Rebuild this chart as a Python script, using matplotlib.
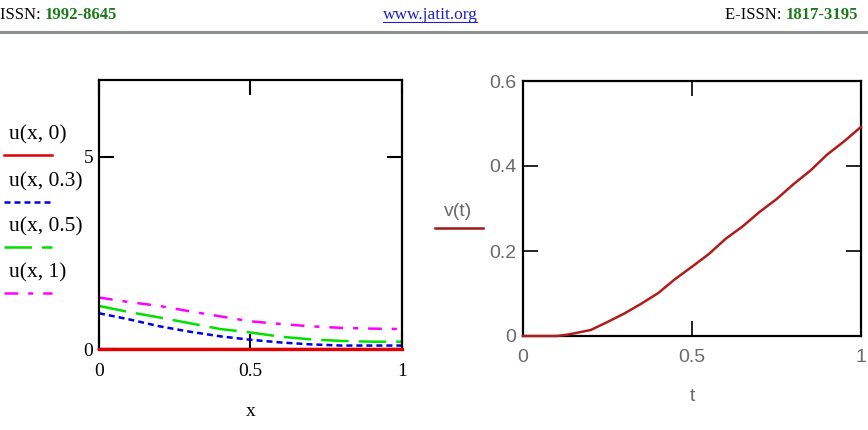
import numpy as np
import matplotlib.pyplot as plt
from matplotlib.lines import Line2D

# left panel: u(x, t) for several t
x = [0.0, 0.1, 0.2, 0.3, 0.4, 0.5, 0.6, 0.7, 0.8, 0.9, 1.0]
u_t0 = [0, 0, 0, 0, 0, 0, 0, 0, 0, 0, 0]
u_t03 = [0.93, 0.77, 0.59, 0.45, 0.33, 0.24, 0.17, 0.12, 0.09, 0.09, 0.09]
u_t05 = [1.12, 0.96, 0.82, 0.67, 0.52, 0.43, 0.32, 0.25, 0.21, 0.19, 0.19]
u_t1 = [1.34, 1.22, 1.12, 0.98, 0.85, 0.72, 0.65, 0.59, 0.55, 0.53, 0.52]
u_labels = ["u(x, 0)", "u(x, 0.3)", "u(x, 0.5)", "u(x, 1)"]

# right panel: v(t)
t = [0.0, 0.05, 0.1, 0.13, 0.15, 0.2, 0.25, 0.3, 0.35, 0.4, 0.45, 0.5,
     0.55, 0.6, 0.65, 0.7, 0.75, 0.8, 0.85, 0.9, 0.95, 1.0]
v = [0.0, 0.0, 0.0, 0.003, 0.006, 0.014, 0.033, 0.053, 0.076, 0.101, 0.134, 0.163,
     0.193, 0.229, 0.258, 0.292, 0.322, 0.357, 0.389, 0.427, 0.458, 0.492]

W, H = 868, 430
fig = plt.figure(figsize=(W / 100, H / 100), dpi=100)

def fx(px):
    return px / W

def fy(py):
    return 1 - py / H

serif = "Liberation Serif"

# header
t1 = fig.text(fx(0), fy(15), "ISSN: ", fontsize=12, family=serif, va="center", ha="left")
fig.canvas.draw()
r = fig.canvas.get_renderer()
bb = t1.get_window_extent(r)
fig.text(bb.x1 / W, fy(15), "1992-8645", fontsize=12, family=serif, weight="bold",
         color="#1a7a1a", va="center", ha="left")
t3 = fig.text(fx(858), fy(15), "1817-3195", fontsize=12, family=serif, weight="bold",
              color="#1a7a1a", va="center", ha="right")
bb = t3.get_window_extent(r)
fig.text(bb.x0 / W, fy(15), "E-ISSN: ", fontsize=12, family=serif, va="center", ha="right")
t2 = fig.text(fx(430), fy(15), "www.jatit.org", fontsize=12.5, family=serif, color="#2020c8",
              va="center", ha="center")
bb = t2.get_window_extent(r)
fig.add_artist(Line2D([bb.x0 / W, bb.x1 / W], [fy(22), fy(22)], color="#2020c8", lw=0.8))
fig.add_artist(Line2D([0, 1], [fy(32), fy(32)], color="#8a918a", lw=2.2))

# left axes
ax1 = fig.add_axes([fx(99), fy(349), fx(402) - fx(99), fy(80) - fy(349)])
colors = ["#e00000", "#0000e0", "#00e000", "#ff00ff"]
styles = ["-", (0, (2.4, 1.6)), (0, (11, 4)), (0, (5.5, 4, 2, 4))]
series = [u_t0, u_t03, u_t05, u_t1]
for s, c, ls in zip(series[1:], colors[1:], styles[1:]):
    ax1.plot(x, s, color=c, linestyle=ls, lw=1.8)
ax1.plot(x, u_t0, color=colors[0], lw=2.4, clip_on=False, zorder=5)
ax1.set_xlim(0, 1)
ax1.set_ylim(0, 7)
ax1.set_xticks([0, 0.5, 1])
ax1.set_xticklabels(["0", "0.5", "1"])
ax1.set_yticks([0, 5])
ax1.set_yticklabels(["0", "5"])
ax1.tick_params(direction="in", length=11, width=1.5, top=True, right=True,
                labelsize=14, pad=4)
ax1.tick_params(axis="x", pad=10)
for lab in ax1.get_xticklabels() + ax1.get_yticklabels():
    lab.set_family(serif)
for sp in ax1.spines.values():
    sp.set_linewidth(1.6)
ax1.set_xlabel("x", family=serif, fontsize=14, labelpad=17)

# left legend
leg_y = [135, 182, 227, 273]
for lab, c, ls, yy in zip(u_labels, colors, styles, leg_y):
    fig.text(fx(9), fy(yy), lab, family=serif, fontsize=15.5, va="center", ha="left")
    fig.add_artist(Line2D([fx(4), fx(52)], [fy(yy + 20), fy(yy + 20)], color=c,
                          linestyle=ls, lw=1.8))

# right axes
ax2 = fig.add_axes([fx(523), fy(336), fx(861) - fx(523), fy(81) - fy(336)])
ax2.plot(t, v, color="#b01c1c", lw=1.8, clip_on=False, zorder=5)
ax2.set_xlim(0, 1)
ax2.set_ylim(0, 0.6)
ax2.set_xticks([0, 0.5, 1])
ax2.set_xticklabels(["0", "0.5", "1"])
ax2.set_yticks([0, 0.2, 0.4, 0.6])
ax2.set_yticklabels(["0", "0.2", "0.4", "0.6"])
ax2.tick_params(direction="in", length=11, width=1.2, top=True, right=True,
                labelsize=14, labelcolor="#6a6a6a", pad=5)
ax2.tick_params(axis="x", pad=9)
for lab in ax2.get_xticklabels() + ax2.get_yticklabels():
    lab.set_family("Liberation Sans")
for sp in ax2.spines.values():
    sp.set_linewidth(1.6)
ax2.set_xlabel("t", family="Liberation Sans", fontsize=14, color="#6a6a6a", labelpad=16)

fig.text(fx(458), fy(211), "v(t)", family="Liberation Sans", fontsize=14, color="#6a6a6a",
         va="center", ha="center")
fig.add_artist(Line2D([fx(435), fx(483)], [fy(228), fy(228)], color="#a01818", lw=1.8))

fig.savefig("out.png", dpi=100)
